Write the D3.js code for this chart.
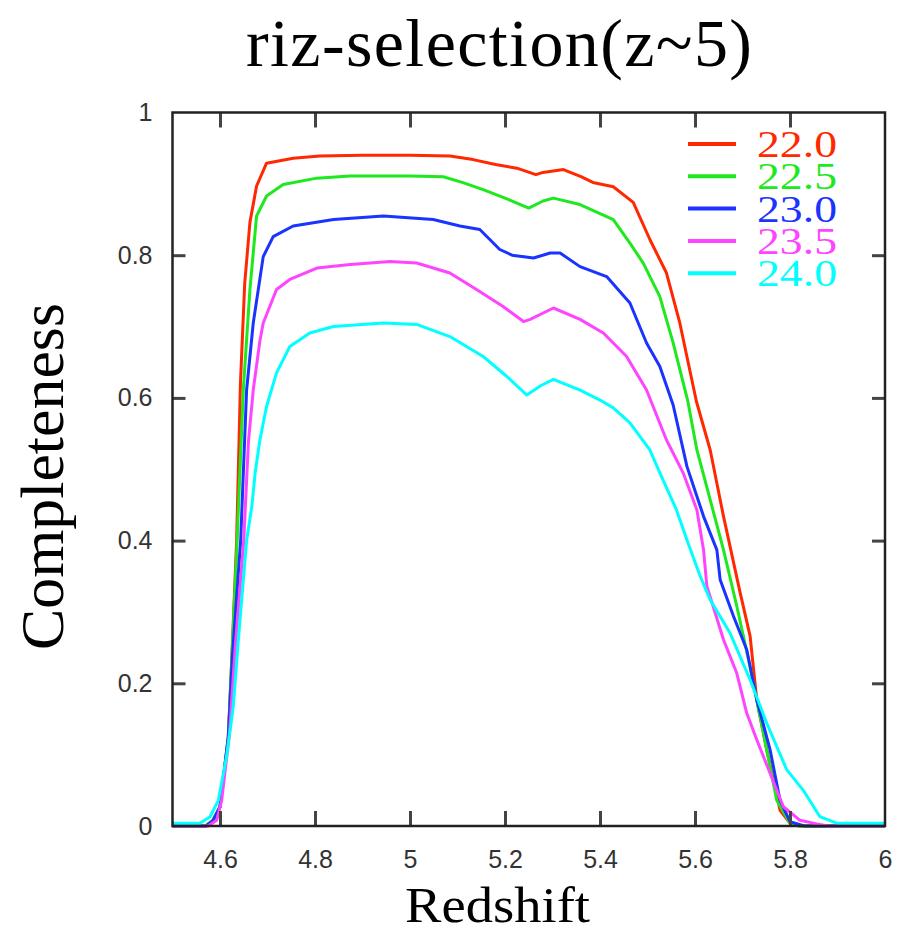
<!DOCTYPE html>
<html>
<head>
<meta charset="utf-8">
<script src="https://cdn.jsdelivr.net/npm/d3@7"></script>
<style>
  body { margin: 0; background: #fff; }
</style>
</head>
<body>
<div id="chart"></div>
<script>
// magnitude limits shown in the legend
const magnitudes = ["22.0", "22.5", "23.0", "23.5", "24.0"];
const colors = ["#ff2800", "#1ee81e", "#1a33ff", "#ff44ff", "#00ffff"];

// completeness curves, [redshift, completeness]
const curve22_0 = [[4.50,0],[4.57,0],[4.585,0.008],[4.60,0.027],[4.6175,0.125],[4.625,0.237],[4.635,0.40],[4.643,0.62],[4.652,0.76],[4.663,0.846],[4.677,0.897],[4.698,0.929],[4.754,0.936],[4.81,0.939],[4.90,0.940],[5.00,0.940],[5.084,0.939],[5.133,0.934],[5.18,0.927],[5.225,0.922],[5.265,0.913],[5.28,0.916],[5.323,0.920],[5.36,0.910],[5.385,0.902],[5.428,0.896],[5.47,0.874],[5.505,0.822],[5.54,0.775],[5.568,0.705],[5.603,0.595],[5.632,0.527],[5.66,0.434],[5.695,0.327],[5.716,0.266],[5.73,0.177],[5.751,0.107],[5.779,0.022],[5.80,0.004],[5.82,0],[6.0,0]];
const curve22_5 = [[4.50,0],[4.57,0],[4.585,0.008],[4.60,0.027],[4.6175,0.125],[4.625,0.237],[4.636,0.40],[4.649,0.611],[4.663,0.752],[4.677,0.855],[4.698,0.883],[4.733,0.899],[4.804,0.908],[4.874,0.911],[5.00,0.911],[5.07,0.910],[5.11,0.902],[5.154,0.892],[5.20,0.880],[5.25,0.866],[5.28,0.876],[5.302,0.880],[5.358,0.871],[5.428,0.850],[5.463,0.817],[5.491,0.789],[5.526,0.742],[5.554,0.677],[5.585,0.595],[5.604,0.527],[5.632,0.457],[5.66,0.387],[5.688,0.308],[5.716,0.223],[5.744,0.13],[5.772,0.036],[5.80,0.004],[5.82,0],[6.0,0]];
const curve23_0 = [[4.50,0],[4.57,0],[4.585,0.007],[4.60,0.027],[4.6175,0.125],[4.626,0.237],[4.6435,0.40],[4.656,0.611],[4.67,0.705],[4.691,0.798],[4.712,0.826],[4.754,0.841],[4.839,0.850],[4.944,0.855],[5.049,0.850],[5.105,0.841],[5.147,0.836],[5.189,0.808],[5.215,0.800],[5.26,0.796],[5.295,0.803],[5.316,0.803],[5.358,0.784],[5.414,0.770],[5.463,0.733],[5.498,0.677],[5.526,0.644],[5.554,0.590],[5.583,0.504],[5.618,0.434],[5.646,0.387],[5.653,0.345],[5.681,0.294],[5.709,0.247],[5.73,0.177],[5.758,0.107],[5.779,0.036],[5.80,0.006],[5.83,0],[6.0,0]];
const curve23_5 = [[4.50,0],[4.575,0],[4.593,0.008],[4.6035,0.036],[4.62,0.13],[4.632,0.25],[4.65,0.40],[4.66,0.54],[4.67,0.611],[4.684,0.68],[4.691,0.705],[4.719,0.752],[4.747,0.766],[4.804,0.782],[4.874,0.787],[4.958,0.791],[5.014,0.789],[5.084,0.775],[5.14,0.752],[5.196,0.728],[5.239,0.707],[5.253,0.710],[5.302,0.726],[5.358,0.710],[5.407,0.691],[5.456,0.658],[5.498,0.611],[5.54,0.541],[5.575,0.495],[5.604,0.443],[5.618,0.387],[5.625,0.336],[5.66,0.261],[5.688,0.214],[5.709,0.158],[5.73,0.121],[5.758,0.074],[5.786,0.027],[5.821,0.008],[5.856,0.003],[5.88,0],[6.0,0]];
const curve24_0 = [[4.50,0.004],[4.558,0.004],[4.579,0.013],[4.5965,0.036],[4.614,0.098],[4.628,0.168],[4.6386,0.261],[4.656,0.40],[4.667,0.448],[4.674,0.495],[4.684,0.541],[4.698,0.588],[4.719,0.635],[4.747,0.672],[4.789,0.691],[4.839,0.700],[4.944,0.705],[5.014,0.703],[5.084,0.686],[5.154,0.658],[5.204,0.630],[5.246,0.604],[5.275,0.617],[5.302,0.626],[5.358,0.611],[5.40,0.597],[5.428,0.586],[5.463,0.565],[5.505,0.527],[5.526,0.495],[5.561,0.443],[5.583,0.401],[5.611,0.350],[5.632,0.317],[5.674,0.270],[5.716,0.205],[5.751,0.144],[5.793,0.079],[5.828,0.050],[5.863,0.013],[5.898,0.004],[6.0,0.004]];

// axis ticks
const xTicks = [4.6, 4.8, 5, 5.2, 5.4, 5.6, 5.8, 6];
const yTicks = [0, 0.2, 0.4, 0.6, 0.8, 1];

const curves = [curve22_0, curve22_5, curve23_0, curve23_5, curve24_0];

const W = 912, H = 934;
const margin = {top: 112.5, right: 27, bottom: 108, left: 172.5};
const width = W - margin.left - margin.right,
      height = H - margin.top - margin.bottom;

const svg = d3.select("#chart").append("svg")
    .attr("width", W)
    .attr("height", H);

const g = svg.append("g")
    .attr("transform", "translate(" + margin.left + "," + margin.top + ")");

const x = d3.scaleLinear().domain([4.5, 6]).range([0, width]);
const y = d3.scaleLinear().domain([0, 1]).range([height, 0]);

// curves first, frame on top
const line = d3.line()
    .x(function(d) { return x(d[0]); })
    .y(function(d) { return y(d[1]); });

g.selectAll(".curve")
  .data(curves)
  .enter()
  .append("path")
    .attr("class", "curve")
    .attr("d", line)
    .attr("fill", "none")
    .attr("stroke", function(d, i) { return colors[i]; })
    .attr("stroke-width", 3)
    .attr("stroke-linejoin", "round");

const fmt = d3.format("~g");

// bottom axis with labels
const xAxis = g.append("g")
    .attr("transform", "translate(0," + height + ")")
    .call(d3.axisBottom(x).tickValues(xTicks).tickSizeInner(-15).tickSizeOuter(0).tickPadding(24).tickFormat(fmt));
// top axis ticks only
const xTop = g.append("g")
    .call(d3.axisTop(x).tickValues(xTicks.slice(0, -1)).tickSizeInner(-15).tickSizeOuter(0).tickFormat(""));
// left axis with labels
const yAxis = g.append("g")
    .call(d3.axisLeft(y).tickValues(yTicks).tickSizeInner(-13).tickSizeOuter(0).tickPadding(20).tickFormat(fmt));
// right axis ticks only
const yRight = g.append("g")
    .attr("transform", "translate(" + width + ",0)")
    .call(d3.axisRight(y).tickValues(yTicks.slice(1, -1)).tickSizeInner(-13).tickSizeOuter(0).tickFormat(""));

[xAxis, xTop, yAxis, yRight].forEach(function(a) {
    a.select(".domain").remove();
    a.selectAll(".tick line").attr("stroke", "#444").attr("stroke-width", 3);
    a.selectAll(".tick text")
      .attr("fill", "#333")
      .style("font-family", "'Liberation Sans', Arial, sans-serif")
      .style("font-size", "25px");
});
// no tick marks at the frame edges
xAxis.selectAll(".tick").filter(function(d) { return d === 6; }).select("line").remove();
yAxis.selectAll(".tick").filter(function(d) { return d === 0 || d === 1; }).select("line").remove();

// frame
g.append("rect")
    .attr("width", width)
    .attr("height", height)
    .attr("fill", "none")
    .attr("stroke", "#222")
    .attr("stroke-width", 2.5);

// legend
const legend = g.append("g");
magnitudes.forEach(function(m, i) {
    const ly = 31.5 + i * 32.3;
    legend.append("line")
        .attr("x1", 515.5).attr("x2", 563.5)
        .attr("y1", ly).attr("y2", ly)
        .attr("stroke", colors[i])
        .attr("stroke-width", 4);
    legend.append("text")
        .attr("x", 584.5)
        .attr("y", ly + 13)
        .attr("fill", colors[i])
        .attr("textLength", 80)
        .attr("lengthAdjust", "spacingAndGlyphs")
        .style("font-family", "'Liberation Serif', serif")
        .style("font-size", "37px")
        .text(m);
});

// title
svg.append("text")
    .attr("x", 499)
    .attr("y", 66)
    .attr("text-anchor", "middle")
    .attr("textLength", 506)
    .attr("lengthAdjust", "spacing")
    .style("font-family", "'Liberation Serif', serif")
    .style("font-size", "68px")
    .text("riz-selection(z~5)");

// axis titles
svg.append("text")
    .attr("transform", "translate(63,476.5) rotate(-90)")
    .attr("text-anchor", "middle")
    .attr("textLength", 347)
    .attr("lengthAdjust", "spacingAndGlyphs")
    .style("font-family", "'Liberation Serif', serif")
    .style("font-size", "62px")
    .text("Completeness");

svg.append("text")
    .attr("x", 497.5)
    .attr("y", 922)
    .attr("text-anchor", "middle")
    .attr("textLength", 185)
    .attr("lengthAdjust", "spacingAndGlyphs")
    .style("font-family", "'Liberation Serif', serif")
    .style("font-size", "50px")
    .text("Redshift");
</script>
</body>
</html>
